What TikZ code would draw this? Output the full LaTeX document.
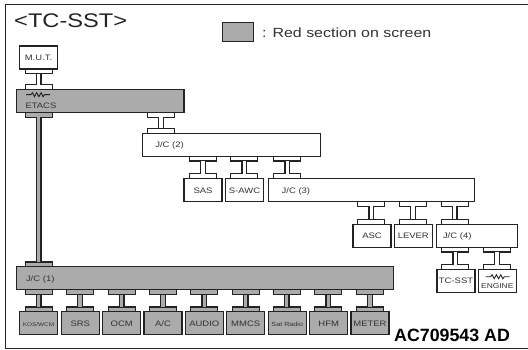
\documentclass[tikz,border=0pt]{standalone}
\usepackage{fontspec}
\setmainfont[FakeStretch=1.2]{Liberation Sans}
\newfontfamily\plainbold[Scale=1]{Liberation Sans Bold}
\usetikzlibrary{positioning}
\usetikzlibrary{calc}
\definecolor{redsec}{RGB}{171,171,171}
\definecolor{ink}{RGB}{35,35,35}
\definecolor{lettering}{RGB}{50,50,50}
\tikzset{
    unit/.style={draw=ink, line width=1.3pt, fill=white, rectangle, inner sep=0pt, outer sep=0pt,
        minimum width=38pt, text height=14.5pt, text depth=8.5pt, anchor=north west,
        text=lettering, font=\fontsize{7.9}{9}\selectfont},
    bar/.style 2 args={unit, minimum width=#1pt, text width={#1pt-2*#2pt}, inner xsep=#2pt, align=left},
    raised/.style={text height=19pt, text depth=4pt},
    plate/.style={draw=ink, line width=1.3pt, rectangle, inner sep=0pt, outer sep=0pt,
        minimum width=27pt, minimum height=4.8pt},
    link/.style={draw=ink, line width=1.3pt, double distance=3.4pt},
    resist/.style={draw=ink, line width=0.9pt, line join=miter},
}
\begin{document}
\begin{tikzpicture}[x=1pt, y=-1pt]
    \useasboundingbox (0,0) rectangle (528,350);
    \draw[ink, line width=1.5pt] (530,4.7) -- (5.5,4.7) -- (5.5,348.7) -- (530,348.7);

    \node[text=ink, anchor=base west, inner sep=0pt, font=\fontsize{19.7}{22}\selectfont] (title) at (14,27.3) {<TC-SST>};
    \node[unit, fill=redsec, minimum width=31pt, text height=19pt, text depth=0pt] (legendbox) at (222.7,22.7) {};
    \node[text=lettering, anchor=base west, inner sep=0pt, font=\fontsize{13.3}{16}\selectfont] (legend) at (262,38) {: Red section on screen};
    \node[text=black, anchor=base west, inner sep=0pt, font=\plainbold\fontsize{17.8}{20}\selectfont] (code) at (394,341.7) {AC709543 AD};

    \node[unit] (mut) at (19.5,46) {M.U.T.};
    \node[bar={167.5}{9}, fill=redsec, raised] (etacs) at (16.5,89.5) {ETACS};
    \node[bar={178.4}{13}] (jcb) at (142.3,133.3) {J/C (2)};
    \node[unit] (sas) at (184,178.6) {SAS};
    \node[unit] (sawc) at (225.5,178.6) {S-AWC};
    \node[bar={206.4}{13.4}] (jcc) at (268.3,178.6) {J/C (3)};
    \node[unit] (asc) at (353,224.3) {ASC};
    \node[unit] (lever) at (394.3,224.3) {LEVER};
    \node[bar={81}{6.7}] (jcd) at (436.3,224.3) {J/C (4)};
    \node[unit] (tcsst) at (437,269.3) {TC-SST};
    \node[unit, raised, font=\fontsize{7}{9}\selectfont] (engine) at (478.3,269.3) {ENGINE};
    \node[bar={377}{9.5}, fill=redsec] (jca) at (16.5,266.7) {J/C (1)};

    \foreach \n/\x/\w/\s in {kos/19.5/{KOS/WCM}/5.3, srs/61.3/SRS/7.9, ocm/102.7/OCM/7.9, ac/144/{A/C}/7.9, audio/185.3/AUDIO/7.9,
            mmcs/226.7/MMCS/7.9, sat/268.3/Sat Radio/6, hfm/309.7/HFM/7.9, meter/351/METER/7.9} {
        \node[unit, fill=redsec, font=\fontsize{\s}{9}\selectfont] (\n) at (\x,311.7) {\w};
    }

    \foreach \a/\b/\x/\c [count=\k] in {mut/etacs/38.7/white, etacs/jca/38.7/redsec, etacs/jcb/161/white,
            jcb/sas/203/white, jcb/sawc/244.3/white, jcb/jcc/287.3/white,
            jcc/asc/371.3/white, jcc/lever/413/white, jcc/jcd/454.7/white,
            jcd/tcsst/455.3/white, jcd/engine/497/white,
            jca/kos/38.7/redsec, jca/srs/80/redsec, jca/ocm/121.7/redsec, jca/ac/163/redsec, jca/audio/204.3/redsec,
            jca/mmcs/245.7/redsec, jca/sat/286.7/redsec, jca/hfm/328.3/redsec, jca/meter/370/redsec} {
        \node[plate, fill=\c, anchor=north] (upper\k) at (\x,0 |- \a.south) {};
        \node[plate, fill=\c, anchor=south] (lower\k) at (\x,0 |- \b.north) {};
        \draw[link, double=\c] (upper\k.south) -- (lower\k.north);
    }

    \foreach \x/\y in {26/94.7, 485.7/276.7} {
        \draw[resist] (\x,\y) -- ++(5,0) -- ++(1.5,-2) -- ++(2,4) -- ++(2.2,-4) -- ++(2.2,4) -- ++(2.2,-4) -- ++(2,4) -- ++(1.5,-2) -- ++(5.4,0);
    }
\end{tikzpicture}
\end{document}
